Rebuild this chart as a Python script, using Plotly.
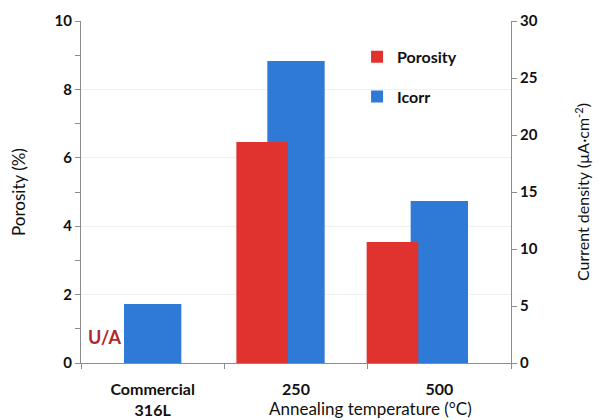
import plotly.graph_objects as go

categories = ["Commercial<br>316L", "250", "500"]
porosity = [None, 6.46, 3.54]          # %
icorr = [5.18, 26.5, 14.2]             # µA·cm^-2
porosity_ticks = [0, 2, 4, 6, 8, 10]
current_ticks = [0, 5, 10, 15, 20, 25, 30]

RED = "#E0332F"
BLUE = "#2F7AD6"
FONT = "Lato"

fig = go.Figure()

fig.add_trace(go.Bar(
    x=categories, y=icorr, name="Icorr", yaxis="y",
    marker=dict(color=BLUE, line=dict(width=0)),
    width=0.4, offset=-0.2, legendrank=2, legendgroup="b",
))
fig.add_trace(go.Bar(
    x=categories, y=porosity, name="Porosity", yaxis="y2",
    marker=dict(color=RED, line=dict(width=0)),
    width=[0.36, 0.36, 0.36], offset=[0, -0.416, -0.507],
    legendrank=1, legendgroup="a",
))

axis_line = "#8c8c8c"

fig.update_layout(
    width=593, height=412,
    margin=dict(l=73, r=90, t=13, b=57),
    paper_bgcolor="white", plot_bgcolor="white",
    barmode="overlay",
    font=dict(family=FONT, size=16, color="#111111"),
    showlegend=True,
    legend=dict(
        x=0.642, y=0.945, xanchor="left", yanchor="top",
        bgcolor="rgba(0,0,0,0)", tracegroupgap=16,
        font=dict(size=16, weight="bold", color="#111111"),
        itemwidth=30,
    ),
    xaxis=dict(
        type="category", automargin=False,
        showline=True, linecolor=axis_line, linewidth=1,
        ticks="outside", tickson="boundaries", ticklen=5, tickcolor=axis_line,
        tickfont=dict(size=16, weight="bold"), ticklabelstandoff=12,
        showgrid=False, zeroline=False,
        range=[-0.5, 2.5],
    ),
    yaxis=dict(
        side="right", range=[0, 30], tickvals=current_ticks, automargin=False,
        showline=True, linecolor=axis_line, linewidth=1,
        ticks="outside", ticklen=5, tickcolor=axis_line,
        tickfont=dict(size=15, weight="bold"),
        showgrid=False, zeroline=False,
        title=dict(text="Current density (µA·cm<sup>-2</sup>)", font=dict(size=16), standoff=41),
    ),
    yaxis2=dict(
        side="left", overlaying="y", range=[0, 10], tickvals=porosity_ticks, automargin=False,
        showline=True, linecolor=axis_line, linewidth=1,
        ticks="outside", ticklen=5, tickcolor=axis_line,
        minor=dict(ticks="outside", ticklen=5, dtick=1, tickcolor=axis_line, showgrid=False),
        tickfont=dict(size=15, weight="bold"),
        showgrid=True, gridcolor="#f0f0f0", gridwidth=1,
        zeroline=False,
        title=dict(text="Porosity (%)", font=dict(size=17), standoff=25),
    ),
    annotations=[
        dict(text="Annealing temperature (°C)", xref="paper", yref="paper",
             x=0.674, y=0, yshift=-45, xanchor="center", yanchor="middle",
             showarrow=False, font=dict(size=17)),
        dict(text="<b>U/A</b>", xref="x", yref="y2", x=0, y=0.75,
             xshift=-48, xanchor="center", yanchor="middle",
             showarrow=False, font=dict(size=18, color="#B0282C")),
    ],
)

fig.write_html("out.html")
